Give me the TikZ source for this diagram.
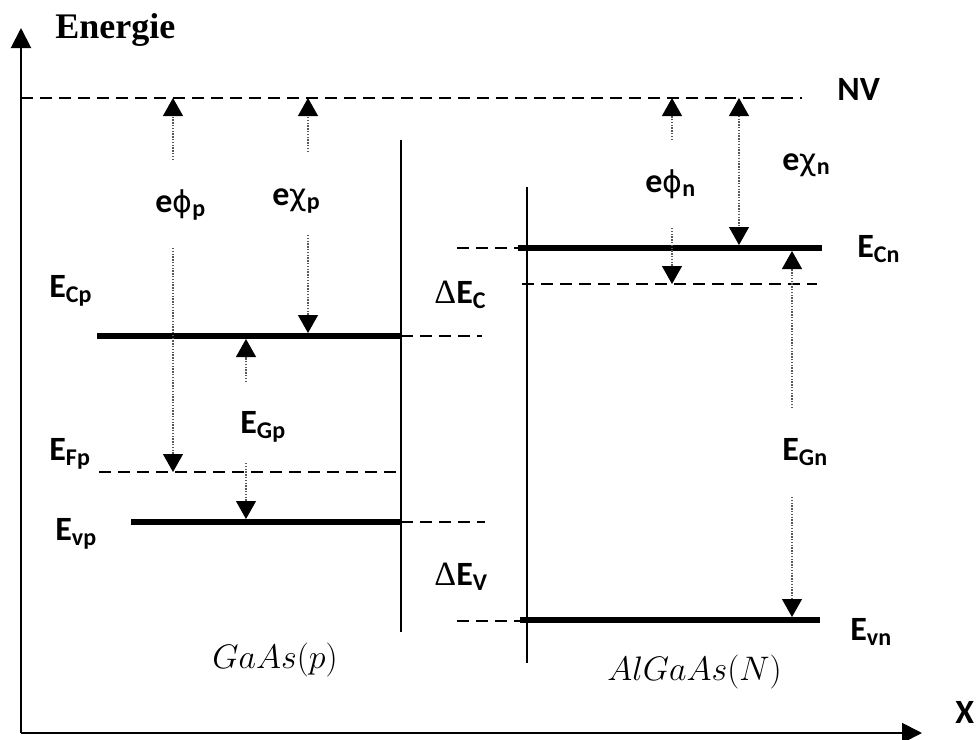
\documentclass[tikz,border=0pt]{standalone}
\usepackage{fix-cm}
\usepackage[no-math]{fontspec}
\setmainfont{Carlito}
\newfontfamily\tnr{Liberation Serif}
\newfontfamily\dvs{DejaVu Sans}
\usetikzlibrary{arrows.meta}
\newcommand{\sublab}[2]{\textbf{#1}\raisebox{-2.5pt}{\fontsize{12}{12}\selectfont\bfseries #2}}
\newcommand{\grk}[2]{\textbf{e}{\dvs\mdseries\fontsize{15}{15}\selectfont #1}\raisebox{-2pt}{\fontsize{12}{12}\selectfont\bfseries #2}}
\begin{document}
\begin{tikzpicture}[x=0.5pt,y=-0.5pt,
  axis/.style={line width=1pt,-{Triangle[width=10pt,length=10pt]}},
  iface/.style={line width=0.9pt},
  band/.style={line width=3pt},
  lvl/.style={line width=1.4pt,dash pattern=on 6pt off 3.5pt},
  thinlvl/.style={line width=0.8pt,dash pattern=on 6pt off 3.5pt},
  dots/.style={line width=0.6pt,draw=black!65,dash pattern=on 0.7pt off 0.7pt},
  tipend/.style={dots,-{Triangle[width=10pt,length=9pt,color=black]}},
  tipboth/.style={dots,{Triangle[width=10pt,length=9pt,color=black]}-{Triangle[width=10pt,length=9pt,color=black]}},
  lab/.style={inner sep=0pt,anchor=base west,font=\fontsize{17}{17}\selectfont\bfseries},
  mat/.style={inner sep=0pt,anchor=base west,font=\fontsize{17}{17}\selectfont}
]
\useasboundingbox (0,0) rectangle (976,740);
% axes
\coordinate (O) at (21,733);
\coordinate (ytip) at (21,28);
\coordinate (xtip) at (922,733);
\draw[axis] (O) -- (ytip);
\draw[axis] (O) -- (xtip);
\node[inner sep=0pt,anchor=base west,font=\tnr\fontsize{18}{18}\selectfont\bfseries] (energie) at (55,38) {Energie};
\node[lab] (xlab) at (955,723) {X};
% vacuum level
\coordinate (nvL) at (21,98);
\coordinate (nvR) at (802,98);
\draw[lvl] (nvL) -- (nvR);
\node[lab] (nv) at (837,100) {NV};
% interfaces
\coordinate (i1t) at (401,140); \coordinate (i1b) at (401,632);
\coordinate (i2t) at (527,187); \coordinate (i2b) at (527,663);
\draw[iface] (i1t) -- (i1b);
\draw[iface] (i2t) -- (i2b);
% GaAs levels
\coordinate (ecpL) at (97,336); \coordinate (ecpR) at (401,336); \coordinate (ecpD) at (482,336);
\draw[band] (ecpL) -- (ecpR);
\draw[lvl] (ecpR) -- (ecpD);
\coordinate (efpL) at (99,472); \coordinate (efpR) at (397,472);
\draw[lvl] (efpL) -- (efpR);
\coordinate (evpL) at (131,522); \coordinate (evpR) at (401,522); \coordinate (evpD) at (485,522);
\draw[band] (evpL) -- (evpR);
\draw[lvl] (evpR) -- (evpD);
% AlGaAs levels
\coordinate (ecnD) at (457,248); \coordinate (ecnL) at (518,248); \coordinate (ecnR) at (822,248);
\draw[lvl] (ecnD) -- (ecnL);
\draw[band] (ecnL) -- (ecnR);
\coordinate (dcL) at (522,284); \coordinate (dcR) at (817,284);
\draw[lvl] (dcL) -- (dcR);
\coordinate (evnD) at (457,621); \coordinate (evnL) at (520,620); \coordinate (evnR) at (820,620);
\draw[thinlvl] (evnD) -- (evnL |- evnD);
\draw[band] (evnL) -- (evnR);
% arrows GaAs
\coordinate (a1) at (173,160); \coordinate (a1t) at (173,98);
\coordinate (a2) at (173,248); \coordinate (a2t) at (173,472);
\draw[tipend] (a1) -- (a1t);
\draw[tipend] (a2) -- (a2t);
\coordinate (b1) at (308,152); \coordinate (b1t) at (308,98);
\coordinate (b2) at (308,235); \coordinate (b2t) at (308,333);
\draw[tipend] (b1) -- (b1t);
\draw[tipend] (b2) -- (b2t);
\coordinate (c1) at (246,382); \coordinate (c1t) at (246,339);
\coordinate (c2) at (246,463); \coordinate (c2t) at (246,519);
\draw[tipend] (c1) -- (c1t);
\draw[tipend] (c2) -- (c2t);
% arrows AlGaAs
\coordinate (d1) at (672,140); \coordinate (d1t) at (672,98);
\coordinate (d2) at (672,228); \coordinate (d2t) at (672,284);
\draw[tipend] (d1) -- (d1t);
\draw[tipend] (d2) -- (d2t);
\coordinate (e1t) at (739,98); \coordinate (e2t) at (739,245);
\draw[tipboth] (e1t) -- (e2t);
\coordinate (f1) at (792,408); \coordinate (f1t) at (792,251);
\coordinate (f2) at (792,497); \coordinate (f2t) at (792,617);
\draw[tipend] (f1) -- (f1t);
\draw[tipend] (f2) -- (f2t);
% labels
\node[lab] (phip) at (155,212) {\grk{ϕ}{p}};
\node[lab] (chip) at (272,205) {\grk{χ}{p}};
\node[lab] (ecp) at (49,297) {\sublab{E}{Cp}};
\node[lab] (efp) at (49,460) {\sublab{E}{Fp}};
\node[lab] (evp) at (55,540) {\sublab{E}{vp}};
\node[lab] (egp) at (240,433) {\sublab{E}{Gp}};
\node[lab] (dec) at (434,303) {{\tnr\mdseries Δ}\sublab{E}{C}};
\node[lab] (dev) at (434,585) {{\tnr\mdseries Δ}\sublab{E}{V}};
\node[lab] (phin) at (645,192) {\grk{ϕ}{n}};
\node[lab] (chin) at (782,170) {\grk{χ}{n}};
\node[lab] (ecn) at (857,257) {\sublab{E}{Cn}};
\node[lab] (egn) at (782,460) {\sublab{E}{Gn}};
\node[lab] (evn) at (850,640) {\sublab{E}{vn}};
\node[mat] (gaas) at (212,668) {$GaAs(p)$};
\node[mat] (algaas) at (607,680) {$AlGaAs(N)$};
\end{tikzpicture}
\end{document}
